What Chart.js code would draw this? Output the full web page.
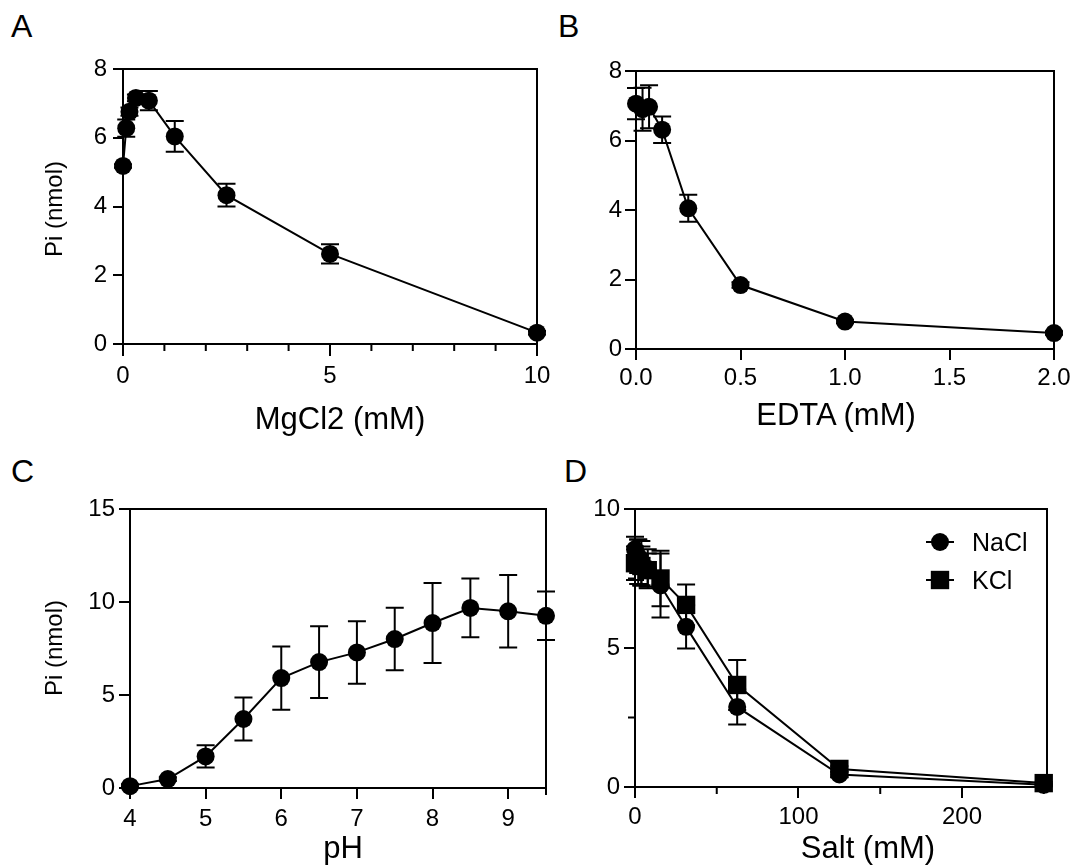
<!DOCTYPE html>
<html>
<head>
<meta charset="utf-8">
<script src="https://cdn.jsdelivr.net/npm/chart.js@4.4.1/dist/chart.umd.min.js"></script>
<style>
  html, body { margin: 0; padding: 0; background: #fff; }
  body { width: 1077px; height: 867px; position: relative; overflow: hidden;
         font-family: "Liberation Sans", Arial, sans-serif; color: #000; }
  canvas { position: absolute; }
  .letter { position: absolute; font-size: 32px; line-height: 32px; }
  .xtitle, .ytitle { position: absolute; white-space: nowrap; line-height: 1; }
  .xtitle { font-size: 31px; transform: translate(-50%, -50%); }
  .ytitle { font-size: 24px; transform: translate(-50%, -50%) rotate(-90deg); }
</style>
</head>
<body>
<div class="letter" style="left:11px;top:10px">A</div>
<div class="letter" style="left:558px;top:10px">B</div>
<div class="letter" style="left:11px;top:455px">C</div>
<div class="letter" style="left:564px;top:455px">D</div>

<canvas id="chartA" width="560" height="430" style="left:0;top:0"></canvas>
<canvas id="chartB" width="517" height="430" style="left:560px;top:0"></canvas>
<canvas id="chartC" width="560" height="437" style="left:0;top:430px"></canvas>
<canvas id="chartD" width="517" height="437" style="left:560px;top:430px"></canvas>

<div class="ytitle" style="left:54px;top:209px">Pi (nmol)</div>
<div class="ytitle" style="left:54px;top:648px">Pi (nmol)</div>
<div class="xtitle" style="left:340px;top:418px">MgCl2 (mM)</div>
<div class="xtitle" style="left:836px;top:414px">EDTA (mM)</div>
<div class="xtitle" style="left:343px;top:847px">pH</div>
<div class="xtitle" style="left:868px;top:847px">Salt (mM)</div>

<script>
// A: MgCl2 titration
const mgX = [0, 0.078, 0.156, 0.3125, 0.625, 1.25, 2.5, 5, 10];
const mgPi = [5.18, 6.28, 6.76, 7.16, 7.08, 6.04, 4.33, 2.62, 0.33];
const mgSd = [0.05, 0.25, 0.12, 0.1, 0.28, 0.45, 0.33, 0.28, 0.05];
const mgXTicks = [0, 5, 10];
const mgXMinor = [1, 2, 3, 4, 6, 7, 8, 9];
const mgYTicks = [0, 2, 4, 6, 8];

// B: EDTA titration
const edtaX = [0, 0.03125, 0.0625, 0.125, 0.25, 0.5, 1, 2];
const edtaPi = [7.06, 6.9, 6.97, 6.31, 4.05, 1.84, 0.79, 0.46];
const edtaSd = [0.45, 0.62, 0.62, 0.38, 0.39, 0.08, 0.05, 0.05];
const edtaXTicks = [0, 0.5, 1, 1.5, 2];
const edtaYTicks = [0, 2, 4, 6, 8];

// C: pH profile
const phX = [4, 4.5, 5, 5.5, 6, 6.5, 7, 7.5, 8, 8.5, 9, 9.5];
const phPi = [0.1, 0.48, 1.7, 3.71, 5.91, 6.77, 7.29, 8.01, 8.87, 9.68, 9.5, 9.26];
const phSd = [0.1, 0.1, 0.6, 1.15, 1.7, 1.93, 1.68, 1.68, 2.15, 1.58, 1.95, 1.3];
const phXTicks = [4, 5, 6, 7, 8, 9];
const phXMinor = [9.5];
const phYTicks = [0, 5, 10, 15];

// D: salt
const saltX = [0, 1.95, 3.9, 7.8, 15.6, 31.25, 62.5, 125, 250];
const naclPi = [8.55, 8.3, 8.05, 7.85, 7.25, 5.76, 2.88, 0.45, 0.08];
const naclSd = [0.45, 0.6, 0.8, 0.7, 1.15, 0.78, 0.63, 0.1, 0.05];
const kclPi = [8.05, 8.1, 7.95, 7.8, 7.5, 6.55, 3.67, 0.65, 0.14];
const kclSd = [0.6, 0.8, 0.7, 0.6, 1.0, 0.73, 0.9, 0.1, 0.05];
const saltXTicks = [0, 100, 200];
const saltXMinor = [50, 150, 250];
const saltYTicks = [0, 5, 10];
const saltYMinor = [2.5, 7.5];

const FONT = '"Liberation Sans", Arial, sans-serif';
Chart.defaults.font.family = FONT;
Chart.defaults.color = "#000";

const toPoints = (xs, ys) => xs.map((x, i) => ({ x, y: ys[i] }));

// vertical error bars with caps, read through the chart scales
const errorBars = {
  id: "errorBars",
  beforeDatasetsDraw(chart) {
    const { ctx } = chart;
    const xs = chart.scales.x, ys = chart.scales.y;
    ctx.save();
    ctx.strokeStyle = "#000";
    ctx.lineWidth = 2;
    chart.data.datasets.forEach((ds) => {
      if (!ds.errors) return;
      ds.data.forEach((p, i) => {
        const e = ds.errors[i];
        if (!e) return;
        const x = xs.getPixelForValue(p.x);
        const top = ys.getPixelForValue(p.y + e);
        const bot = ys.getPixelForValue(Math.max(p.y - e, 0));
        ctx.beginPath();
        ctx.moveTo(x, top); ctx.lineTo(x, bot);
        ctx.moveTo(x - 9, top); ctx.lineTo(x + 9, top);
        if (p.y - e > 0) { ctx.moveTo(x - 9, bot); ctx.lineTo(x + 9, bot); }
        ctx.stroke();
      });
    });
    ctx.restore();
  }
};

// top/right frame lines and short minor ticks
const frame = {
  id: "frame",
  afterDraw(chart, args, opts) {
    const { ctx, chartArea: a } = chart;
    ctx.save();
    ctx.strokeStyle = "#000";
    ctx.lineWidth = 2;
    ctx.beginPath();
    ctx.moveTo(a.left, a.top); ctx.lineTo(a.right, a.top); ctx.lineTo(a.right, a.bottom);
    (opts.xMinor || []).forEach((v) => {
      const x = chart.scales.x.getPixelForValue(v);
      ctx.moveTo(x, a.bottom); ctx.lineTo(x, a.bottom + 7);
    });
    (opts.yMinor || []).forEach((v) => {
      const y = chart.scales.y.getPixelForValue(v);
      ctx.moveTo(a.left, y); ctx.lineTo(a.left - 7, y);
    });
    ctx.stroke();
    ctx.restore();
  }
};

// legend inside the plot: line segment + marker + label
const insideLegend = {
  id: "insideLegend",
  afterDraw(chart, args, opts) {
    if (!opts.show) return;
    const { ctx, chartArea: a } = chart;
    ctx.save();
    ctx.fillStyle = "#000";
    ctx.strokeStyle = "#000";
    ctx.lineWidth = 2;
    ctx.font = "25px " + FONT;
    ctx.textBaseline = "alphabetic";
    chart.data.datasets.forEach((ds, i) => {
      const cx = a.right - 107, cy = a.top + 33 + i * 38;
      ctx.beginPath();
      ctx.moveTo(cx - 14, cy); ctx.lineTo(cx + 14, cy);
      ctx.stroke();
      Chart.helpers.drawPoint(ctx, { pointStyle: ds.pointStyle, radius: ds.pointRadius, rotation: 0, borderWidth: 0 }, cx, cy);
      ctx.fillText(ds.label, a.right - 75, cy + 9);
    });
    ctx.restore();
  }
};

function series(label, xs, ys, sd, style) {
  return {
    label,
    data: toPoints(xs, ys),
    errors: sd,
    pointStyle: style,
    pointRadius: style === "rect" ? 13 : 9,
    pointBorderWidth: 0,
    borderColor: "#000",
    backgroundColor: "#000",
    pointBackgroundColor: "#000",
    borderWidth: 2,
    tension: 0,
    clip: false
  };
}

function panel(id, cfg) {
  const axisX = {
    type: "linear",
    min: cfg.xMin, max: cfg.xMax,
    afterBuildTicks: (s) => { s.ticks = cfg.xTicks.map((value) => ({ value })); },
    afterFit: (s) => { s.height = cfg.xH; },
    grid: { drawOnChartArea: false, drawTicks: true, tickLength: cfg.xTl, color: "#000", lineWidth: 2 },
    border: { display: true, color: "#000", width: 2 },
    ticks: { font: { size: 24 }, padding: cfg.xPad, maxRotation: 0, autoSkip: false,
             callback: cfg.xFmt || ((v) => String(v)) }
  };
  const axisY = {
    type: "linear",
    min: cfg.yMin, max: cfg.yMax,
    afterBuildTicks: (s) => { s.ticks = cfg.yTicks.map((value) => ({ value })); },
    afterFit: (s) => { s.width = cfg.yW; },
    grid: { drawOnChartArea: false, drawTicks: true, tickLength: cfg.yTl, color: "#000", lineWidth: 2 },
    border: { display: true, color: "#000", width: 2 },
    ticks: { font: { size: 24 }, padding: cfg.yPad, autoSkip: false, callback: (v) => String(v) }
  };
  return new Chart(document.getElementById(id), {
    type: "line",
    data: { datasets: cfg.datasets },
    options: {
      responsive: false,
      animation: false,
      events: [],
      layout: { padding: { left: 0, top: cfg.padT, right: cfg.padR, bottom: 0 } },
      scales: { x: axisX, y: axisY },
      plugins: {
        legend: { display: false },
        tooltip: { enabled: false },
        frame: { xMinor: cfg.xMinor, yMinor: cfg.yMinor },
        insideLegend: { show: !!cfg.legend }
      }
    },
    plugins: [errorBars, frame, insideLegend]
  });
}

panel("chartA", {
  datasets: [series("MgCl2", mgX, mgPi, mgSd, "circle")],
  xMin: 0, xMax: 10, xTicks: mgXTicks, xMinor: mgXMinor,
  yMin: 0, yMax: 8, yTicks: mgYTicks,
  yW: 123, padT: 69, padR: 23, xH: 86,
  xTl: 12, xPad: 6, yTl: 10, yPad: 6
});

panel("chartB", {
  datasets: [series("EDTA", edtaX, edtaPi, edtaSd, "circle")],
  xMin: 0, xMax: 2, xTicks: edtaXTicks, xFmt: (v) => v.toFixed(1),
  yMin: 0, yMax: 8, yTicks: edtaYTicks,
  yW: 76, padT: 71, padR: 23, xH: 81,
  xTl: 11, xPad: 4, yTl: 11, yPad: 3
});

panel("chartC", {
  datasets: [series("pH", phX, phPi, phSd, "circle")],
  xMin: 4, xMax: 9.5, xTicks: phXTicks, xMinor: phXMinor,
  yMin: 0, yMax: 15, yTicks: phYTicks,
  yW: 130, padT: 79, padR: 14, xH: 79,
  xTl: 11, xPad: 6, yTl: 11, yPad: 4
});

panel("chartD", {
  datasets: [
    series("NaCl", saltX, naclPi, naclSd, "circle"),
    series("KCl", saltX, kclPi, kclSd, "rect")
  ],
  xMin: 0, xMax: 252, xTicks: saltXTicks, xMinor: saltXMinor,
  yMin: 0, yMax: 10, yTicks: saltYTicks, yMinor: saltYMinor,
  yW: 75, padT: 79, padR: 30, xH: 80,
  xTl: 11, xPad: 5, yTl: 11, yPad: 4,
  legend: true
});
</script>
</body>
</html>
